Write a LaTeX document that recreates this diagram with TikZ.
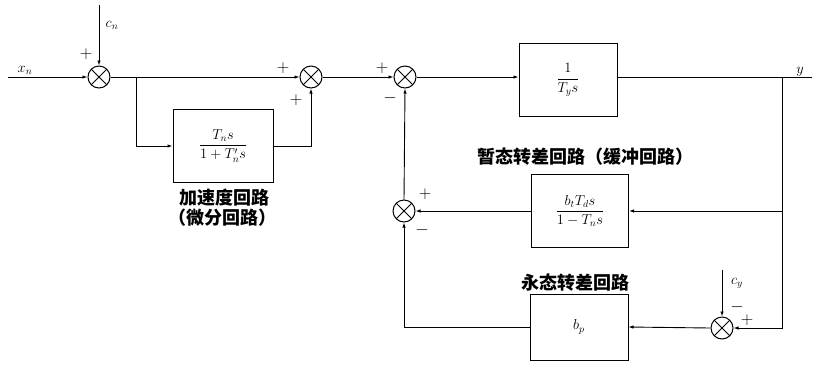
\documentclass[tikz,border=0pt]{standalone}
\usepackage{amsmath}
\usepackage{fontspec}
\newfontfamily\cjk{Noto Sans CJK SC}
\usetikzlibrary{arrows.meta}
\begin{document}
\begin{tikzpicture}[x=1pt,y=-1pt,
  line width=0.9pt,
  arr/.style={-{Latex[length=5pt,width=3.5pt]}},
  sumj/.style={circle,draw,line width=1pt,minimum size=22pt,inner sep=0pt,
    path picture={\draw[line width=0.9pt] (path picture bounding box.north west)--(path picture bounding box.south east)
      (path picture bounding box.north east)--(path picture bounding box.south west);}},
  blk/.style={draw,line width=1pt,inner sep=0pt,font=\Large},
  sgn/.style={font=\LARGE,inner sep=0pt},
  lbl/.style={font=\Large,inner sep=0pt},
  cjkl/.style={font=\cjk\bfseries\fontsize{18}{20}\selectfont,inner sep=0pt}]
\useasboundingbox (0,0) rectangle (816,365);
% summing junctions
\node[sumj] (s1) at (99,77) {};
\node[sumj] (s2) at (311,77) {};
\node[sumj] (s3) at (405,77) {};
\node[sumj] (s4) at (404,211) {};
\node[sumj] (s5) at (722,328) {};
% blocks
\node[blk,minimum width=100pt,minimum height=73pt] (b1) at (223,146) {$\dfrac{T_n s}{1+T_n' s}$};
\node[blk,minimum width=98pt,minimum height=73pt] (b2) at (568,80) {$\dfrac{1}{T_y s}$};
\node[blk,minimum width=97pt,minimum height=73pt] (b3) at (580,211) {$\dfrac{b_t T_d s}{1-T_n s}$};
\node[blk,minimum width=98pt,minimum height=66pt] (b4) at (579,327) {$b_p$};
% coordinates
\coordinate (xin) at (8,77);
\coordinate (cnt) at (99,5);
\coordinate (br1) at (136,77);
\coordinate (yend) at (812,77);
\coordinate (tap) at (782,77);
\coordinate (tap2) at (782,211);
\coordinate (cyt) at (722,270);
% connections
\draw[arr] (xin) -- (s1);
\draw[arr] (cnt) -- (s1);
\draw[arr] (s1) -- (s2);
\draw[arr] (br1) |- (b1);
\draw[arr] (b1.east) -| (s2.south);
\draw[arr] (s2) -- (s3);
\draw[arr] (s3) -- (s3 -| b2.west);
\draw (s3 -| b2.east) -- (yend);
\draw[arr] (tap) |- (s5.east);
\draw[arr] (tap2) -- (b3.east);
\draw[arr] (b3.west) -- (s4.east);
\draw[arr] (s4.north) -- (s3.south);
\draw[arr] (s5.west) -- (b4.east);
\draw[arr] (b4.west) -| (s4.south);
\draw[arr] (cyt) -- (s5.north);
% signs
\node[sgn] at (86,54) {$+$};
\node[sgn] at (283,68) {$+$};
\node[sgn] at (296,100) {$+$};
\node[sgn] at (382,68) {$+$};
\node[sgn] at (390,98) {$-$};
\node[sgn] at (425,194) {$+$};
\node[sgn] at (422,230) {$-$};
\node[sgn] at (737,307) {$-$};
\node[sgn] at (747,320) {$+$};
% labels
\node[lbl] at (25,70) {$x_n$};
\node[lbl] at (112,25) {$c_n$};
\node[lbl] at (800,72) {$y$};
\node[lbl] at (737,283) {$c_y$};
\node[cjkl] at (585,157) {暂态转差回路（缓冲回路）};
\node[cjkl] at (575,283) {永态转差回路};
\node[cjkl] at (224,198) {加速度回路};
\node[cjkl] at (222,218) {（微分回路）};
\end{tikzpicture}
\end{document}
